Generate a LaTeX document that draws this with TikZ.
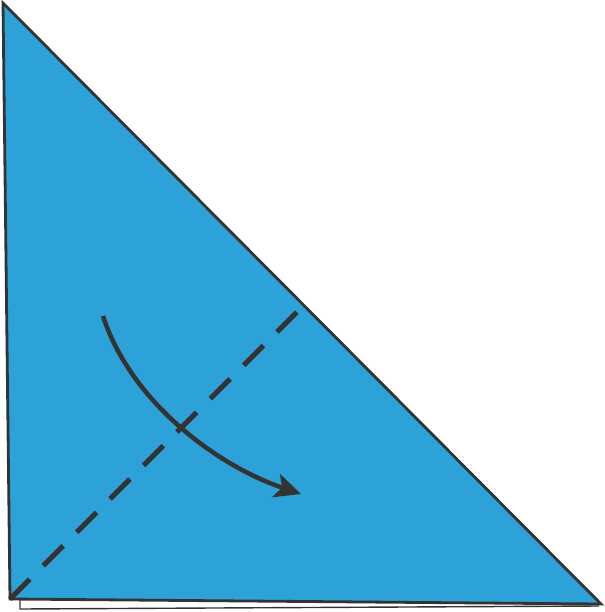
\documentclass[tikz,border=0pt]{standalone}
\usetikzlibrary{arrows.meta}
\definecolor{paper}{HTML}{2CA2D8}
\definecolor{ink}{HTML}{333333}
\tikzset{
  outline/.style={draw=ink, line width=2.8pt, line join=miter},
  foldline/.style={draw=ink, line width=5pt, dash pattern=on 28pt off 19.2pt},
  foldarrow/.style={draw=ink, line width=4.5pt, -{Stealth[length=26pt, width=24pt, inset=6pt]}},
}
\begin{document}
\begin{tikzpicture}[x=1pt, y=-1pt]
\useasboundingbox (0,0) rectangle (604,612);
% coordinates
\coordinate (apex) at (3,3);
\coordinate (bl) at (10,599);
\coordinate (br) at (601,604);
\coordinate (wl1) at (20,599);
\coordinate (wl2) at (20,609);
\coordinate (wr) at (599,606);
\coordinate (dashend) at (297,312);
\coordinate (arrs) at (103,316);
\coordinate (arre) at (301,494);
% under layer
\fill[white] (wl1) -- (wl2) -- (wr) -- (br) -- cycle;
\draw[draw=ink, line width=1.4pt] (wl1) -- (wl2) -- (wr);
% main triangle
\fill[paper] (apex) -- (br) -- (bl) -- cycle;
\draw[outline] (apex) -- (br) -- (bl) -- cycle;
% fold line
\draw[foldline] (bl) -- (dashend);
% arrow
\draw[foldarrow] (arrs) .. controls (130,400) and (215,465) .. (arre);
\end{tikzpicture}
\end{document}
